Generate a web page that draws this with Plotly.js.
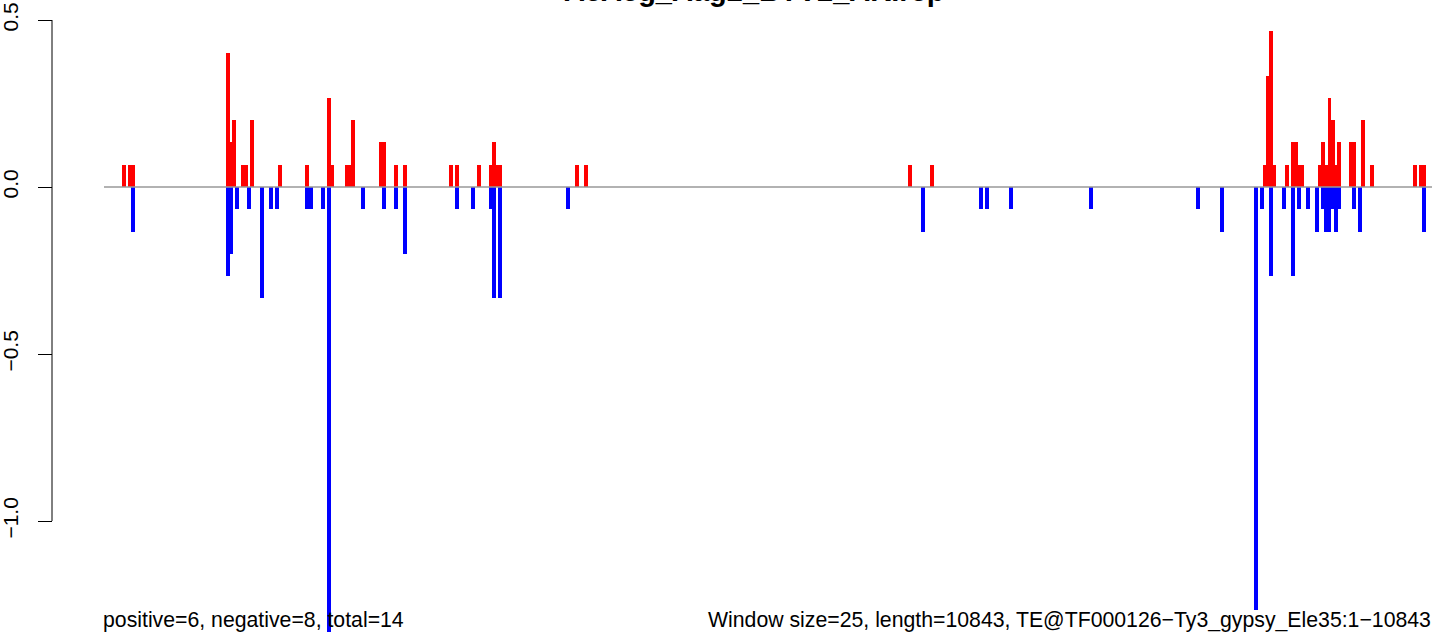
<!DOCTYPE html>
<html>
<head>
<meta charset="utf-8">
<script src="https://cdn.plot.ly/plotly-3.0.1.min.js"></script>
<style>
  html, body { margin: 0; padding: 0; background: #ffffff; }
  #chart { width: 1436px; height: 636px; }
</style>
</head>
<body>
<div id="chart"></div>
<script>
// Window indices (window size 25 bp over length 10843 -> 434 windows)
const windowCount = 434;

// Positive (red) windows and values
const posWindows = [7, 9, 10, 41, 42, 43, 46, 47, 49, 58, 67, 74, 75, 80, 81, 82, 91, 92, 96, 99,
  114, 116, 123, 127, 128, 129, 130, 155, 158, 264, 271,
  380, 381, 382, 383, 387, 389, 390, 391, 392, 398, 399, 400, 401, 402, 403, 404,
  408, 409, 412, 415, 429, 431, 432];
const posValues = [0.0667, 0.0667, 0.0667, 0.4, 0.1333, 0.2, 0.0667, 0.0667, 0.2, 0.0667, 0.0667, 0.2667, 0.0667, 0.0667, 0.0667, 0.2, 0.1333, 0.1333, 0.0667, 0.0667,
  0.0667, 0.0667, 0.0667, 0.0667, 0.1333, 0.0667, 0.0667, 0.0667, 0.0667, 0.0667, 0.0667,
  0.0667, 0.3333, 0.4667, 0.0667, 0.0667, 0.1333, 0.1333, 0.0667, 0.0667, 0.0667, 0.1333, 0.0667, 0.2667, 0.2, 0.0667, 0.1333,
  0.1333, 0.1333, 0.2, 0.0667, 0.0667, 0.0667, 0.0667];

// Negative (blue) windows and values
const negWindows = [10, 41, 42, 44, 48, 52, 55, 57, 67, 68, 72, 74, 85, 92, 96, 99,
  116, 121, 127, 128, 130, 152, 268, 287, 289, 297, 323, 358, 366,
  377, 379, 382, 386, 389, 391, 394, 397, 399, 400, 401, 402, 403, 404, 409, 411, 432];
const negValues = [-0.1333, -0.2667, -0.2, -0.0667, -0.0667, -0.3333, -0.0667, -0.0667, -0.0667, -0.0667, -0.0667, -1.3333, -0.0667, -0.0667, -0.0667, -0.2,
  -0.0667, -0.0667, -0.0667, -0.3333, -0.3333, -0.0667, -0.1333, -0.0667, -0.0667, -0.0667, -0.0667, -0.0667, -0.1333,
  -1.2667, -0.0667, -0.2667, -0.0667, -0.2667, -0.0667, -0.0667, -0.1333, -0.0667, -0.1333, -0.1333, -0.0667, -0.1333, -0.0667, -0.0667, -0.1333, -0.1333];

// Y tick labels
const yTickVals = [0.5, 0.0, -0.5, -1.0];
const yTickText = ['0.5', '0.0', '\u22120.5', '\u22121.0'];

const chartTitle = 'AeAeg_Aag2_BTV2_AK.rep';
const leftNote = 'positive=6, negative=8, total=14';
const rightNote = 'Window size=25, length=10843, TE@TF000126\u2212Ty3_gypsy_Ele35:1\u221210843';

const FONT = '"Liberation Sans", Arial, Helvetica, sans-serif';
const W = 1436, H = 636, ML = 52, MR = 4;
const plotLeftPx = 104;
const domStart = (plotLeftPx - ML) / (W - ML - MR);
const barWidth = 1.3;

const traces = [
  { type: 'bar', x: posWindows, y: posValues, width: barWidth,
    marker: { color: '#ff0000', line: { width: 0 } }, hoverinfo: 'skip' },
  { type: 'bar', x: negWindows, y: negValues, width: barWidth,
    marker: { color: '#0000ff', line: { width: 0 } }, hoverinfo: 'skip' }
];

const layout = {
  width: W, height: H,
  margin: { l: ML, r: MR, t: 0, b: 0, pad: 0 },
  paper_bgcolor: '#ffffff', plot_bgcolor: '#ffffff',
  showlegend: false,
  barmode: 'overlay',
  bargap: 0,
  font: { family: FONT, color: '#000000', size: 21 },
  xaxis: {
    domain: [domStart, 1],
    range: [0.5, windowCount + 0.5],
    showgrid: false, zeroline: false, showline: false,
    showticklabels: false, ticks: ''
  },
  yaxis: {
    range: [-1.3443, 0.5599],
    anchor: 'free', position: 0, side: 'left',
    tickmode: 'array', tickvals: yTickVals, ticktext: yTickText,
    ticks: 'outside', ticklen: 14, tickwidth: 1, tickcolor: '#000000',
    tickangle: -90,
    ticklabelstandoff: 12,
    tickfont: { family: FONT, size: 21, color: '#000000' },
    showgrid: false, zeroline: false, showline: false
  },
  shapes: [
    { type: 'line', xref: 'paper', yref: 'y', x0: 0, x1: 0, y0: -1.0, y1: 0.5,
      line: { color: '#000000', width: 1 } },
    { type: 'line', xref: 'x domain', yref: 'y', x0: 0, x1: 1, y0: 0, y1: 0,
      line: { color: '#999999', width: 1.6 }, layer: 'above' }
  ],
  annotations: [
    { text: '<b>' + chartTitle + '</b>', xref: 'paper', yref: 'paper',
      x: (754 - ML) / (W - ML - MR), y: 1, xanchor: 'center', yanchor: 'bottom',
      yshift: -9, showarrow: false,
      font: { family: FONT, size: 29, color: '#000000' } },
    { text: leftNote, xref: 'paper', yref: 'paper', x: domStart, y: 0,
      xanchor: 'left', yanchor: 'bottom', xshift: -3, yshift: 2, showarrow: false,
      font: { family: FONT, size: 21.25, color: '#000000' } },
    { text: rightNote, xref: 'paper', yref: 'paper', x: 1, y: 0,
      xanchor: 'right', yanchor: 'bottom', xshift: 1, yshift: 2, showarrow: false,
      font: { family: FONT, size: 21.25, color: '#000000' } }
  ]
};

Plotly.newPlot('chart', traces, layout, { staticPlot: true, displayModeBar: false });
</script>
</body>
</html>
